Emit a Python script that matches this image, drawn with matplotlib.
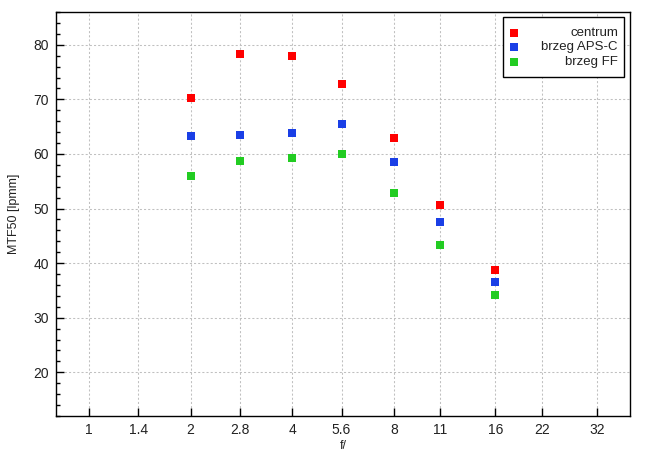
import matplotlib
matplotlib.use("Agg")
import matplotlib.pyplot as plt
from matplotlib.patches import Rectangle
from matplotlib.ticker import FixedLocator, FixedFormatter, MultipleLocator, NullLocator

plt.rcParams['font.family'] = ['Liberation Sans', 'DejaVu Sans']

f_stops = [2, 2.8, 4, 5.6, 8, 11, 16]
tick_vals = [1, 1.4, 2, 2.8, 4, 5.6, 8, 11, 16, 22, 32]
tick_labels = ["1", "1.4", "2", "2.8", "4", "5.6", "8", "11", "16", "22", "32"]
centrum = [70.2, 78.3, 77.9, 72.8, 62.9, 50.6, 38.7]
brzeg_apsc = [63.25, 63.4, 63.8, 65.45, 58.5, 47.5, 36.6]
brzeg_ff = [55.9, 58.7, 59.2, 59.95, 52.8, 43.25, 34.1]
series_names = ['centrum', 'brzeg APS-C', 'brzeg FF']
series_colors = ['#ff0000', '#1a3fe6', '#22cc22']

fig = plt.figure(figsize=(6.55, 4.55), dpi=100)
ax = fig.add_axes([0.0855, 0.0857, 0.8763, 0.8879])

ax.set_xscale('log', base=2)
ax.set_xlim(0.798, 40.1)
ax.set_ylim(12, 86)

ms = 5.2
for vals, name, col in zip([centrum, brzeg_apsc, brzeg_ff], series_names, series_colors):
    ax.plot(f_stops, vals, 's', color=col, ms=ms, mew=0, label=name, zorder=3)

ax.xaxis.set_major_locator(FixedLocator(tick_vals))
ax.xaxis.set_major_formatter(FixedFormatter(tick_labels))
ax.xaxis.set_minor_locator(NullLocator())
ax.yaxis.set_major_locator(MultipleLocator(10))
ax.yaxis.set_minor_locator(MultipleLocator(2))

ax.grid(True, which='major', color='#c0c0c0', linestyle=(0, (2, 2)), linewidth=0.75)
ax.set_axisbelow(True)

ax.tick_params(axis='both', which='major', direction='in', length=6, width=1.0,
               labelsize=10, colors='black', labelcolor='#222222', pad=5)
ax.tick_params(axis='y', which='minor', direction='in', length=3, width=1.0)
ax.tick_params(top=False, right=False, which='both')

for s in ax.spines.values():
    s.set_linewidth(1.0)
    s.set_color('black')

ax.set_xlabel('f/', fontsize=9, color='#222222', labelpad=2)
ax.set_ylabel('MTF50 [lpmm]', fontsize=9, color='#222222', labelpad=10)

# legend box (markers left, labels right-aligned)
frame = Rectangle((0.7787, 0.839), 0.2108, 0.1486, transform=ax.transAxes,
                  facecolor='white', edgecolor='black', linewidth=1.0, zorder=5)
ax.add_patch(frame)
row_y = [0.9488, 0.9126, 0.8755]
for yy, name, col in zip(row_y, series_names, series_colors):
    ax.plot([0.798], [yy], 's', color=col, ms=ms, mew=0, transform=ax.transAxes,
            zorder=6, clip_on=False)
    ax.text(0.979, yy, name, transform=ax.transAxes, ha='right', va='center',
            fontsize=9.5, color='#222222', zorder=6)

fig.savefig('out.png', dpi=100)
